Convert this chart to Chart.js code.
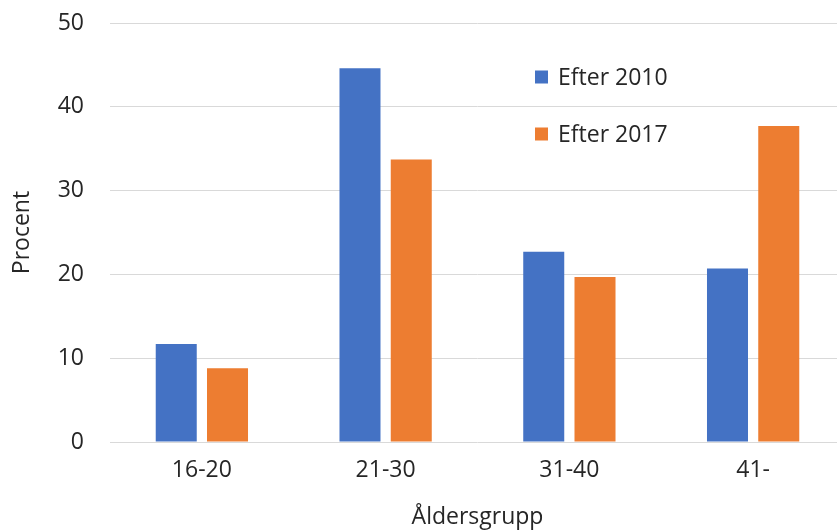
<!DOCTYPE html>
<html>
<head>
<meta charset="utf-8">
<script src="https://cdn.jsdelivr.net/npm/chart.js@4/dist/chart.umd.min.js"></script>
<style>
  html, body { margin: 0; padding: 0; overflow: hidden; background: #fff; }
  #wrap { position: absolute; left: 0; top: 0; width: 850px; height: 531px; }
</style>
</head>
<body>
<div id="wrap"><canvas id="c" width="850" height="531"></canvas></div>
<script>
// Age groups and the share (percent) in each group for the two periods
const categories = ['16-20', '21-30', '31-40', '41-'];
const seriesNames = ['Efter 2010', 'Efter 2017'];
const values2010 = [11.7, 44.6, 22.7, 20.7];
const values2017 = [8.8, 33.7, 19.7, 37.7];
const yTickValues = [0, 10, 20, 30, 40, 50];

const BLUE = '#4472C4';
const ORANGE = '#ED7D31';
const TEXT = '#262626';
const GRID = '#D9D9D9';
const FONT = "'Open Sans', sans-serif";
const FONT_SIZE = 23;

// Legend drawn inside the plot area, stacked vertically
const insideLegend = {
  id: 'insideLegend',
  afterDatasetsDraw(chart) {
    const ctx = chart.ctx;
    const x = 535, y0 = 77, step = 57, box = 13;
    ctx.save();
    ctx.font = FONT_SIZE + 'px ' + FONT;
    ctx.textBaseline = 'middle';
    ctx.textAlign = 'left';
    chart.data.datasets.forEach((ds, i) => {
      const cy = y0 + i * step;
      ctx.fillStyle = ds.backgroundColor;
      ctx.fillRect(x, cy - box / 2, box, box);
      ctx.fillStyle = TEXT;
      ctx.fillText(ds.label, x + box + 10, cy + 1);
    });
    ctx.restore();
  }
};

Chart.defaults.font.family = FONT;
Chart.defaults.font.size = FONT_SIZE;
Chart.defaults.color = TEXT;

new Chart(document.getElementById('c'), {
  type: 'bar',
  data: {
    labels: categories,
    datasets: [
      { label: seriesNames[0], data: values2010, backgroundColor: BLUE,
        barPercentage: 0.8, categoryPercentage: 0.558 },
      { label: seriesNames[1], data: values2017, backgroundColor: ORANGE,
        barPercentage: 0.8, categoryPercentage: 0.558 }
    ]
  },
  options: {
    responsive: false,
    animation: false,
    layout: { padding: { top: 23, right: 5, bottom: 0, left: 0 } },
    plugins: {
      legend: { display: false },
      tooltip: { enabled: false }
    },
    scales: {
      x: {
        grid: { display: false, drawTicks: false },
        border: { display: false },
        ticks: { padding: 15, color: TEXT },
        title: { display: true, text: 'Åldersgrupp', color: TEXT, padding: { top: 4, bottom: 0 } },
        afterFit(scale) { scale.height = 89; }
      },
      y: {
        min: 0,
        max: 50,
        afterBuildTicks(scale) { scale.ticks = yTickValues.map(v => ({ value: v })); },
        grid: { color: GRID, lineWidth: 1, drawTicks: false },
        border: { display: false },
        ticks: { padding: 26, color: TEXT },
        title: { display: true, text: 'Procent', color: TEXT, padding: { top: 9, bottom: 0 } },
        afterFit(scale) {
          scale.width = 110;
          scale.paddingTop = 0;
          scale.paddingBottom = 0;
        }
      }
    }
  },
  plugins: [insideLegend]
});
</script>
</body>
</html>
